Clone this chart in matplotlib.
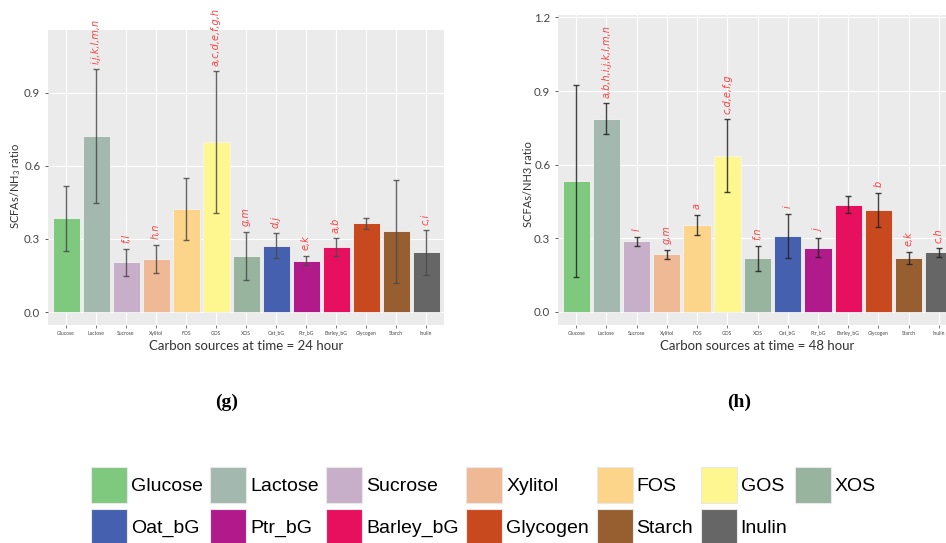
import numpy as np
import matplotlib.pyplot as plt
from matplotlib.patches import Patch

plt.rcParams['font.family'] = ['Lato', 'DejaVu Sans']
plt.rcParams['mathtext.default'] = 'regular'

# data
sources = ['Glucose', 'Lactose', 'Sucrose', 'Xylitol', 'FOS', 'GOS', 'XOS',
           'Oat_bG', 'Ptr_bG', 'Barley_bG', 'Glycogen', 'Starch', 'Inulin']
colors = ['#7FC97F', '#A3B8AE', '#C7AFC9', '#EEB994', '#FCD48A', '#FEF68E', '#98B39E',
          '#4560AE', '#B01A8B', '#E7105E', '#C9491E', '#975F30', '#666666']

ratio_24h = [0.384, 0.722, 0.204, 0.219, 0.421, 0.698, 0.230, 0.272, 0.211, 0.267, 0.364, 0.331, 0.245]
sd_24h = [0.132, 0.274, 0.056, 0.057, 0.127, 0.290, 0.099, 0.051, 0.019, 0.036, 0.023, 0.211, 0.091]
letters_24h = ['', 'i,j,k,l,m,n', 'f,l', 'h,n', '', 'a,c,d,e,f,g,h', 'g,m', 'd,j', 'e,k', 'a,b', '', '', 'c,i']

ratio_48h = [0.534, 0.787, 0.288, 0.235, 0.355, 0.636, 0.218, 0.310, 0.262, 0.436, 0.415, 0.220, 0.242]
sd_48h = [0.392, 0.063, 0.018, 0.018, 0.040, 0.149, 0.052, 0.089, 0.039, 0.035, 0.071, 0.024, 0.017]
letters_48h = ['', 'a,b,h,i,j,k,l,m,n', 'l', 'g,m', 'a', 'c,d,e,f,g', 'f,n', 'i', 'j', '', 'b', 'e,k', 'c,h']

fig = plt.figure(figsize=(9.46, 5.43), dpi=100)


def draw_panel(ax, vals, sds, letters, xlabel, ylabel, yticks, ylim, ecolor):
    x = np.arange(len(sources))
    ax.set_facecolor('#EBEBEB')
    ax.set_axisbelow(True)
    ax.grid(True, color='white', linewidth=0.8)
    for s in ax.spines.values():
        s.set_visible(False)
    ax.bar(x, vals, width=0.9, color=colors, edgecolor='#f4f4f4', linewidth=0.6)
    ax.errorbar(x, vals, yerr=sds, fmt='none', ecolor=ecolor, elinewidth=1.0,
                capsize=2.5, capthick=1.0, alpha=0.85)
    for xi, v, s, lab in zip(x, vals, sds, letters):
        if lab:
            ax.annotate(lab, (xi, v + s), xytext=(0, 4), textcoords='offset points',
                        rotation=90, ha='center', va='bottom', color='#ff3f3f',
                        fontsize=7, style='italic', family='DejaVu Sans',
                        annotation_clip=False)
    ax.set_xlim(-0.6, 12.6)
    ax.set_ylim(*ylim)
    ax.set_yticks(yticks)
    ax.set_yticklabels([f'{t:.1f}' for t in yticks])
    ax.set_xticks(x)
    ax.set_xticklabels(sources, fontsize=3.6, color='#444444')
    ax.tick_params(axis='y', labelsize=8.3, colors='#444444', length=2.5, width=0.6, pad=3)
    ax.tick_params(axis='x', length=2, width=0.5, pad=2, colors='#444444')
    ax.set_xlabel(xlabel, fontsize=9.5, color='#333333', labelpad=3)
    ax.set_ylabel(ylabel, fontsize=8, color='#333333')


ax1 = fig.add_axes([48 / 946, 1 - 325 / 543, 396 / 946, 295 / 543])
draw_panel(ax1, ratio_24h, sd_24h, letters_24h, 'Carbon sources at time = 24 hour',
           'SCFAs/NH$_3$ ratio', [0.0, 0.3, 0.6, 0.9], (-0.053, 1.157), '#4a4a4a')
ax1.yaxis.set_label_coords(-0.063, 0.47)

ax2 = fig.add_axes([558 / 946, 1 - 325 / 543, 399 / 946, 310 / 543])
draw_panel(ax2, ratio_48h, sd_48h, letters_48h, 'Carbon sources at time = 48 hour',
           'SCFAs/NH3 ratio', [0.0, 0.3, 0.6, 0.9, 1.2], (-0.054, 1.21), '#222222')
ax2.yaxis.set_label_coords(-0.06, 0.455)

# panel labels
fig.text(227 / 946, 1 - 402 / 543, '(g)', ha='center', va='center', fontsize=14,
         fontweight='bold', family='Liberation Serif')
fig.text(739 / 946, 1 - 402 / 543, '(h)', ha='center', va='center', fontsize=14,
         fontweight='bold', family='Liberation Serif')

# legend, filled row by row (7 columns)
handles = [Patch(facecolor=c, edgecolor='#e8e8e8', linewidth=0.8, label=n)
           for n, c in zip(sources, colors)]
order = []
for i in range(7):
    order.append(i)
    if i + 7 < len(handles):
        order.append(i + 7)
leg = fig.legend([handles[i] for i in order], [sources[i] for i in order],
                 ncol=7, loc='upper left', bbox_to_anchor=(91 / 946, 1 - 467 / 543),
                 frameon=False, borderpad=0, borderaxespad=0,
                 prop={'family': 'Liberation Sans', 'size': 14},
                 handlelength=1.85, handleheight=2.48, handletextpad=0.2,
                 columnspacing=0.39, labelspacing=0.3)

fig.savefig('out.png', dpi=100)
